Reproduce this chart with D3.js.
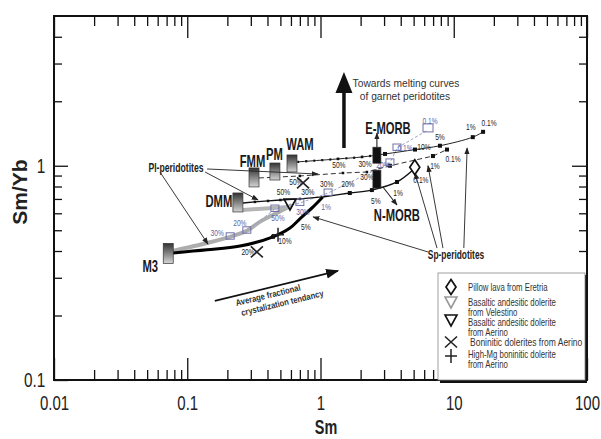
<!DOCTYPE html>
<html><head><meta charset="utf-8">
<script src="https://cdn.jsdelivr.net/npm/d3@7"></script>
<style>body{margin:0;background:#fff}svg{display:block}</style>
</head><body>
<svg id="c" width="601" height="439"></svg>
<script>
// ---------------- DATA ----------------
const xTickLabels = ["0.01","0.1","1","10","100"];
const xMajor = [0.01,0.1,1,10,100];
const yTickLabels = ["0.1","1"];
const yMajor = [0.1,1];

const sources = ["M3","DMM","FMM","PM","WAM","E-MORB","N-MORB"];
const sourceSm = [0.072,0.240,0.317,0.455,0.611,2.65,2.65];
const sourceRatio = [0.39,0.674,0.882,0.94,1.025,1.12,0.866];

const blackCurveSm = [0.078,0.141,0.249,0.44,0.59,0.70,0.88,1.04];
const blackCurveRatio = [0.392,0.405,0.422,0.466,0.512,0.565,0.643,0.715];
const blackCurveLabels = ["","","20%","10%","","5%","",""];

const greyCurveSm = [0.078,0.143,0.21,0.28,0.35,0.52,0.611];
const greyCurveRatio = [0.40,0.437,0.466,0.497,0.547,0.622,0.656];

const dmmLineSm = [0.262,0.322,0.404,0.50,0.70,1.04];
const dmmLineRatio = [0.670,0.678,0.685,0.692,0.70,0.715];
const dmmLineLabels = ["","","","50%","30%",""];

const dmmGreySm = [0.262,0.611];
const dmmGreyRatio = [0.622,0.643];

const spLineSm = [1.04,1.66,2.43,3.75,4.94];
const spLineRatio = [0.715,0.746,0.770,0.840,0.955];
const spLineLabels = ["30%","20%","5%","1%","0.1%"];

const upperSm = [0.67,1.35,2.05,3.05,5.12,7.88,13.9,16.6];
const upperRatio = [1.042,1.076,1.099,1.135,1.19,1.24,1.36,1.44];
const upperLabels = ["","50%","30%","","10%","5%","1%","0.1%"];

const dashedSm = [0.345,0.70,1.475,2.23,3.32,6.98,8.9];
const dashedRatio = [0.877,0.896,0.925,0.935,1.0,1.11,1.19];
const dashedLabels = ["","50%","","30%","","1%","0.1%"];

const blueSm = [0.21,0.28,0.455,0.70,1.14,3.32,3.75,6.41];
const blueRatio = [0.466,0.497,0.628,0.670,0.746,1.031,1.21,1.47];
const blueLabels = ["30%","20%","50%","30%","1%","20%","0.1%","0.1%"];

const pillowSm = [5.1], pillowRatio = [0.984];
const aerinoSm = [0.59], aerinoRatio = [0.663];
const boniniticSm = [0.333,0.74], boniniticRatio = [0.396,0.832];
const highMgSm = [0.48], highMgRatio = [0.476];

const legendLabels = [["Pillow lava from Eretria"],["Basaltic andesitic dolerite","from Velestino"],
  ["Basaltic andesitic dolerite","from Aerino"],["Boninitic dolerites from Aerino"],["High-Mg boninitic dolerite","from Aerino"]];

// annotation anchors (data space)
const plLabelAt = [0.0823,0.978];
const plPointers = [[[0.141,0.966],[0.957,0.915]],[[0.136,0.935],[0.34,0.692]],[[0.0624,0.935],[0.143,0.431]]];
const spLabelAt = [10.4,0.384];
const spPointers = [[[6.41,0.396],[0.88,0.577]],[[7.49,0.413],[5.12,0.925]],[[8.3,0.413],[6.41,1.0]],[[11.9,0.413],[12.6,1.21]]];
const morbArrows = [[[2.65,1.22],[2.65,1.42]],[[2.94,0.796],[3.75,0.656]]];
const crystArrow = [[0.161,0.234],[1.35,0.323]];
const towardsArrow = [[1.5,1.21],[1.5,2.74]];

// ---------------- LAYOUT / STYLE ----------------
const FF = '"Liberation Sans", Arial, Helvetica, sans-serif';
const boxW = [10,10,10,10,10,8,8], boxH = [20,19,19,17,17,16,18];
const boxFill = ["url(#boxg)","url(#boxg)","url(#boxg)","url(#boxg)","url(#boxg)","#111","#111"];
const boxLabelOff = [[-18,13],[-19,-1],[-1.5,-16.5],[-0.5,-17.5],[8,-19.5],[11,-27],[20,36]];
const blackCurveOff = [[0,0],[0,0],[8,6],[12,4],[0,0],[6,8],[0,0],[0,0]];
const dmmOff = [[0,0],[0,0],[0,0],[3,-8],[8,-7],[0,0]];
const spOff = [[4,-13],[-2,-9],[4,11],[1,11],[8,10]];
const upperOff = [[0,0],[1,6],[3,7],[0,0],[9,-3],[0,-9],[-2,-10],[6,-9]];
const dashedOff = [[0,0],[-4,6],[0,0],[0,5],[0,0],[2,10],[6,9]];
const blueOff = [[-13,-4],[-7,-8],[3,9],[3,9],[-2,14],[-7,2],[8,0],[2,-9]];

const svg = d3.select("#c");
const x = d3.scaleLog().domain([0.01,100]).range([54,587]);
const y = d3.scaleLog().domain([0.1,5]).range([380,16]);

const defs = svg.append("defs");
const grad = defs.append("linearGradient").attr("id","boxg").attr("x1",0).attr("y1",0).attr("x2",0).attr("y2",1);
grad.append("stop").attr("offset","0%").attr("stop-color","#333");
grad.append("stop").attr("offset","100%").attr("stop-color","#d4d4d4");
function marker(id,size,color){
  defs.append("marker").attr("id",id).attr("viewBox","0 0 10 10").attr("refX",9).attr("refY",5)
    .attr("markerWidth",size).attr("markerHeight",size).attr("markerUnits","userSpaceOnUse").attr("orient","auto")
    .append("path").attr("d","M0,1.2L10,5L0,8.8Z").attr("fill",color);
}
marker("ah",7,"#222"); marker("ahB",13,"#111");

function T(sel,px,py,s,o={}){
  const t = sel.append("text")
    .attr("transform",`translate(${px},${py})`+(o.rot?` rotate(${o.rot})`:"")+` scale(${o.sx||1},1)`)
    .attr("font-family",FF).attr("font-size",o.size||10).attr("font-weight",o.weight||"normal")
    .attr("fill",o.fill||"#222").attr("text-anchor",o.anchor||"middle").attr("dy",o.dy==null?"0.35em":o.dy)
    .text(s);
  if(o.italic) t.attr("font-style","italic");
  return t;
}

// ---------------- AXES ----------------
const minorX=[]; xMajor.slice(0,-1).forEach(d=>{for(let k=2;k<10;k++) minorX.push(d*k);});
const minorY=[]; [0.1,1].forEach(d=>{for(let k=2;k<10;k++){const v=d*k; if(v<5) minorY.push(v);}});

function axisG(tr){ return svg.append("g").attr("transform",tr); }
function clean(g){ g.select(".domain").remove(); g.selectAll("line").attr("stroke","#111").attr("stroke-width",1.3); return g;}
clean(axisG("translate(0,380)").call(d3.axisBottom(x).tickValues(minorX).tickSize(-10).tickFormat("")));
const gbx = clean(axisG("translate(0,380)").call(d3.axisBottom(x).tickValues(xMajor).tickSize(-22).tickPadding(16).tickFormat((d,i)=>xTickLabels[i])));
gbx.selectAll("text").attr("font-family",FF).attr("font-size",20).attr("fill","#222").attr("transform","scale(0.75,1)");
clean(axisG("translate(0,16)").call(d3.axisTop(x).tickValues(minorX).tickSize(-10).tickFormat("")));
clean(axisG("translate(0,16)").call(d3.axisTop(x).tickValues(xMajor).tickSize(-22).tickFormat("")));
clean(axisG("translate(54,0)").call(d3.axisLeft(y).tickValues(minorY).tickSize(-8).tickFormat("")));
const gly = clean(axisG("translate(54,0)").call(d3.axisLeft(y).tickValues(yMajor).tickSize(-14).tickPadding(12).tickFormat((d,i)=>yTickLabels[i])));
gly.selectAll("text").attr("font-family",FF).attr("font-size",21).attr("fill","#222").attr("transform","scale(0.73,1)");
clean(axisG("translate(587,0)").call(d3.axisRight(y).tickValues(minorY).tickSize(-8).tickFormat("")));
clean(axisG("translate(587,0)").call(d3.axisRight(y).tickValues(yMajor).tickSize(-15).tickFormat("")));
svg.append("rect").attr("x",54).attr("y",16).attr("width",533).attr("height",364).attr("fill","none").attr("stroke","#111").attr("stroke-width",2);

T(svg,326,427,"Sm",{size:20,weight:"bold",sx:0.72});
T(svg.append("g").attr("transform","translate(20,192) rotate(-90)"),0,0,"Sm/Yb",{size:21,weight:"bold"});

// ---------------- LINES ----------------
const pts = (a,b)=>a.map((v,i)=>[x(v),y(b[i])]);
const lin = d3.line();
const crv = d3.line().curve(d3.curveCatmullRom.alpha(0.5));

svg.append("path").attr("d",crv(pts(greyCurveSm,greyCurveRatio))).attr("fill","none").attr("stroke","#adadad").attr("stroke-width",4);
svg.append("path").attr("d",lin(pts(dmmGreySm,dmmGreyRatio))).attr("fill","none").attr("stroke","#b5b5b5").attr("stroke-width",4);
svg.append("path").attr("d",lin(pts(blueSm,blueRatio))).attr("fill","none").attr("stroke","#9aa4cc").attr("stroke-width",1).attr("stroke-dasharray","3,2");
svg.append("path").attr("d",crv(pts(blackCurveSm,blackCurveRatio))).attr("fill","none").attr("stroke","#000").attr("stroke-width",3);
svg.append("path").attr("d",lin(pts(dmmLineSm,dmmLineRatio))).attr("fill","none").attr("stroke","#111").attr("stroke-width",1.3);
svg.append("path").attr("d",crv(pts(spLineSm,spLineRatio))).attr("fill","none").attr("stroke","#111").attr("stroke-width",1.4);
svg.append("path").attr("d",crv(pts(upperSm,upperRatio))).attr("fill","none").attr("stroke","#222").attr("stroke-width",1);
svg.append("path").attr("d",crv(pts(upperSm.slice(0,4),upperRatio.slice(0,4)))).attr("fill","none").attr("stroke","#111").attr("stroke-width",2.2).attr("stroke-dasharray","2,6");
svg.append("path").attr("d",lin(pts(dashedSm,dashedRatio))).attr("fill","none").attr("stroke","#333").attr("stroke-width",1).attr("stroke-dasharray","5,3");

function sq(a,b,idx,s,fill){
  idx.forEach(i=>svg.append("rect").attr("x",x(a[i])-s/2).attr("y",y(b[i])-s/2).attr("width",s).attr("height",s).attr("fill",fill||"#111"));
}
sq(dmmLineSm,dmmLineRatio,[1,2,3,4],2.5);
sq(spLineSm,spLineRatio,[1,2,3],4);
sq(upperSm,upperRatio,[1,2],2.5); sq(upperSm,upperRatio,[3,4,5,6,7],4);
sq(dashedSm,dashedRatio,[1,2,3],2.5); sq(dashedSm,dashedRatio,[4,5,6],4);
sq(blackCurveSm,blackCurveRatio,[3],4);

// blue open squares
blueSm.forEach((v,i)=>{
  const s = i==7?10:8;
  svg.append("rect").attr("x",x(v)-s/2).attr("y",y(blueRatio[i])-s/2+ (i==7?-1:0)).attr("width",s).attr("height",s*0.8)
   .attr("fill","none").attr("stroke","#7070a8").attr("stroke-width",1);
});

// percentage labels
function pl(a,b,labels,off,fill){
  labels.forEach((s,i)=>{ if(!s) return; T(svg,x(a[i])+off[i][0],y(b[i])+off[i][1],s,{size:9,sx:0.74,fill:fill||"#222"}); });
}
pl(blackCurveSm,blackCurveRatio,blackCurveLabels,blackCurveOff);
pl(dmmLineSm,dmmLineRatio,dmmLineLabels,dmmOff);
pl(spLineSm,spLineRatio,spLineLabels,spOff);
pl(upperSm,upperRatio,upperLabels,upperOff);
pl(dashedSm,dashedRatio,dashedLabels,dashedOff);
pl(blueSm,blueRatio,blueLabels,blueOff,"#5a66a8");

// ---------------- SOURCE BOXES ----------------
sources.forEach((s,i)=>{
  const cx=x(sourceSm[i]), cy=y(sourceRatio[i]);
  svg.append("rect").attr("x",cx-boxW[i]/2).attr("y",cy-boxH[i]/2).attr("width",boxW[i]).attr("height",boxH[i])
    .attr("fill",boxFill[i]).attr("stroke","#333").attr("stroke-width",0.7);
  T(svg,cx+boxLabelOff[i][0],cy+boxLabelOff[i][1],s,{size:17,weight:"bold",sx:0.66,fill:"#1a1a1a"});
});

// ---------------- ANNOTATIONS ----------------
function arrowLine(seg,m,w){
  svg.append("line").attr("x1",x(seg[0][0])).attr("y1",y(seg[0][1])).attr("x2",x(seg[1][0])).attr("y2",y(seg[1][1]))
   .attr("stroke","#222").attr("stroke-width",w||0.9).attr("marker-end",m?`url(#${m})`:null);
}
plPointers.forEach(s=>arrowLine(s,"ah"));
spPointers.forEach(s=>arrowLine(s,"ah"));
morbArrows.forEach(s=>arrowLine(s,"ah",1.1));
T(svg,x(plLabelAt[0]),y(plLabelAt[1]),"Pl-peridotites",{size:12,weight:"bold",sx:0.72,fill:"#222"});
T(svg,x(spLabelAt[0]),y(spLabelAt[1]),"Sp-peridotites",{size:12,weight:"bold",sx:0.7,fill:"#222"});

// towards arrow
{
  const tx=x(towardsArrow[1][0]), ty=y(towardsArrow[1][1]), by=y(towardsArrow[0][1]);
  svg.append("line").attr("x1",tx).attr("x2",tx).attr("y1",by).attr("y2",ty+18).attr("stroke","#111").attr("stroke-width",3.5);
  svg.append("path").attr("d",`M${tx},${ty}L${tx+8.5},${ty+21}L${tx-8.5},${ty+21}Z`).attr("fill","#111");
  T(svg,tx+62,ty+11,"Towards melting curves",{size:11,sx:0.93,fill:"#333"});
  T(svg,tx+61,ty+24,"of garnet peridotites",{size:11,sx:0.93,fill:"#333"});
}
// crystallization arrow
{
  const x0=x(crystArrow[0][0]), y0=y(crystArrow[0][1]), x1=x(crystArrow[1][0]), y1=y(crystArrow[1][1]);
  svg.append("line").attr("x1",x0).attr("y1",y0).attr("x2",x1).attr("y2",y1).attr("stroke","#111").attr("stroke-width",1.8).attr("marker-end","url(#ahB)");
  const ang = Math.atan2(y1-y0,x1-x0)*180/Math.PI;
  const g = svg.append("g").attr("transform",`translate(${x0},${y0}) rotate(${ang})`);
  T(g,53,7,"Average fractional",{size:9,weight:"bold",sx:0.85,fill:"#333"});
  T(g,65,18,"crystalization tendancy",{size:9,weight:"bold",sx:0.85,fill:"#333"});
}

// ---------------- SAMPLES ----------------
const diamond="M0,-7.5L5,0L0,7.5L-5,0Z", tri="M-6,-5L6,-5L0,6Z";
function sym(g,px,py,kind,color){
  if(kind==="d") g.append("path").attr("d",diamond).attr("transform",`translate(${px},${py})`).attr("fill","#fff").attr("stroke",color).attr("stroke-width",1.7);
  if(kind==="t") g.append("path").attr("d",tri).attr("transform",`translate(${px},${py})`).attr("fill","none").attr("stroke",color).attr("stroke-width",1.6);
  if(kind==="x") g.append("path").attr("d","M-6,-5.5L6,5.5M-6,5.5L6,-5.5").attr("transform",`translate(${px},${py})`).attr("stroke",color).attr("stroke-width",1.6);
  if(kind==="p") g.append("path").attr("d","M-6,0L6,0M0,-7L0,7").attr("transform",`translate(${px},${py})`).attr("stroke",color).attr("stroke-width",1.5);
}
pillowSm.forEach((v,i)=>sym(svg,x(v),y(pillowRatio[i]),"d","#111"));
aerinoSm.forEach((v,i)=>sym(svg,x(v),y(aerinoRatio[i]),"t","#111"));
boniniticSm.forEach((v,i)=>sym(svg,x(v),y(boniniticRatio[i]),"x","#222"));
highMgSm.forEach((v,i)=>sym(svg,x(v),y(highMgRatio[i]),"p","#222"));

// ---------------- LEGEND ----------------
{
  const lg = svg.append("g");
  lg.append("rect").attr("x",440).attr("y",275).attr("width",147).attr("height",108).attr("fill","#111");
  lg.append("rect").attr("x",438).attr("y",273).attr("width",147).attr("height",107).attr("fill","#fff").attr("stroke","#888").attr("stroke-width",0.8);
  const kinds=["d","t","t","x","p"], cols=["#111","#999","#111","#222","#222"];
  const symY=[287,302,320,342,356];
  const txtY=[[287],[302,312],[322,332],[342],[354,364]];
  kinds.forEach((k,i)=>{
    sym(lg,451,symY[i],k,cols[i]);
    legendLabels[i].forEach((s,j)=>T(lg,i==3?470:468,txtY[i][j],s,{size:10,anchor:"start",sx:i==3?0.85:0.78,fill:"#333"}));
  });
}
</script>
</body></html>
